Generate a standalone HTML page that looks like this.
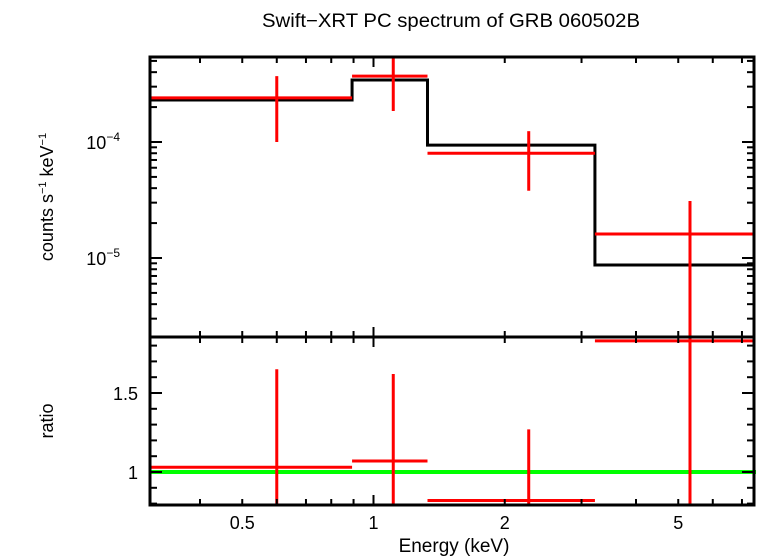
<!DOCTYPE html>
<html><head><meta charset="utf-8"><style>
body{margin:0;background:#fff;}
svg{display:block;font-family:"Liberation Sans",sans-serif;}
</style></head><body>
<svg id="c" width="758" height="556" viewBox="0 0 758 556">
<text x="451" y="27" font-size="19" text-anchor="middle" textLength="378" lengthAdjust="spacingAndGlyphs">Swift−XRT PC spectrum of GRB 060502B</text>
<text x="454" y="552" font-size="19" text-anchor="middle">Energy (keV)</text>
<text transform="translate(53,197) rotate(-90)" font-size="18" text-anchor="middle">counts s<tspan font-size="11" dy="-7">−1</tspan><tspan dy="7"> keV</tspan><tspan font-size="11" dy="-7">−1</tspan></text>
<text transform="translate(53,421) rotate(-90)" font-size="18" text-anchor="middle">ratio</text>
<g id="g"></g>
</svg>
<script>
const binLo=[0.307,0.893,1.33,3.22];
const binHi=[0.893,1.33,3.22,7.46];
const binCenter=[0.60,1.11,2.27,5.32];
const counts=[2.4e-4,3.7e-4,8.0e-5,1.61e-5];
const countsHi=[3.7e-4,5.6e-4,1.24e-4,3.1e-5];
const countsLo=[1.0e-4,1.85e-4,3.8e-5,1e-7];
const model=[2.3e-4,3.42e-4,9.4e-5,8.7e-6];
const ratio=[1.03,1.07,0.82,1.83];
const ratioHi=[1.65,1.62,1.27,2.5];
const ratioLo=[0.4,0.4,0.4,0.4];
const xTickLabels=["0.5","1","2","5"];
const xTickVals=[0.5,1,2,5];
const xMinor=[0.4,0.5,0.6,0.7,0.8,0.9,2,3,4,5,6,7];
const yTopLabels=[-4,-5];
const ratioTicks=[1,1.5];

const L=150,R=754,T=57,M=337,B=505;
const NS="http://www.w3.org/2000/svg";
const g=document.getElementById('g');
const X=e=>373.5+436*Math.log10(e);
const YT=v=>Math.max(T,Math.min(M,142-116*(Math.log10(v)+4)));
const YB=v=>Math.max(M,Math.min(B,472-158*(v-1)));
function ln(x1,y1,x2,y2,c,w,name){const l=document.createElementNS(NS,'line');
l.setAttribute('x1',x1);l.setAttribute('y1',y1);l.setAttribute('x2',x2);l.setAttribute('y2',y2);
l.setAttribute('stroke',c);l.setAttribute('stroke-width',w);


g.appendChild(l);return l;}
function tx(x,y,s,anchor,name){const t=document.createElementNS(NS,'text');
t.setAttribute('x',x);t.setAttribute('y',y);t.setAttribute('font-size','18');t.setAttribute('text-anchor',anchor);
t.textContent=s;


g.appendChild(t);return t;}
ln(L,YB(1),R+2,YB(1),'#00ff00',4,'unity-line');
let d='';
for(let i=0;i<binLo.length;i++){d+=(i?'L':'M')+X(binLo[i])+','+YT(model[i])+'L'+Math.min(R,X(binHi[i]))+','+YT(model[i]);}
const p=document.createElementNS(NS,'path');p.setAttribute('d',d);p.setAttribute('fill','none');p.setAttribute('stroke','#000');p.setAttribute('stroke-width','3');


g.appendChild(p);
for(let i=0;i<binLo.length;i++){
 const x1=Math.max(L,X(binLo[i])),x2=Math.min(R,X(binHi[i])),xc=X(binCenter[i]);
 ln(x1,YT(counts[i]),x2,YT(counts[i]),'#ff0000',3,'data-bin-'+i);
 ln(xc,YT(countsHi[i]),xc,YT(countsLo[i]),'#ff0000',3,'data-error-'+i);
 ln(x1,YB(ratio[i]),x2,YB(ratio[i]),'#ff0000',3,'ratio-bin-'+i);
 ln(xc,YB(ratioHi[i]),xc,YB(ratioLo[i]),'#ff0000',3,'ratio-error-'+i);
}
[[T,M,'top-panel-frame'],[M,B,'bottom-panel-frame']].forEach(([a,b,n])=>{const r=document.createElementNS(NS,'rect');
r.setAttribute('x',L);r.setAttribute('y',a);r.setAttribute('width',R-L);r.setAttribute('height',b-a);
r.setAttribute('fill','none');r.setAttribute('stroke','#000');r.setAttribute('stroke-width','3');


g.appendChild(r);});
xMinor.forEach(v=>{const x=X(v);[T,M].forEach(y=>ln(x,y,x,y+6,'#000',2,'x-tick'));[M,B].forEach(y=>ln(x,y,x,y-6,'#000',2,'x-tick'));});
[T,M,B].forEach((y,k)=>{const x=X(1);ln(x,y-(k>0?10:0),x,y+(k<2?10:0),'#000',2,'x-major-tick');});
xTickVals.forEach((v,i)=>tx(X(v),529,xTickLabels[i],'middle','x-tick-label'));
for(let e=-6;e<=-3;e++){for(let m=1;m<10;m++){const v=m*Math.pow(10,e);const y=142-116*(Math.log10(v)+4);
 if(y<T||y>M)continue;const w=m==1?12:7;ln(L,y,L+w,y,'#000',2,'y-tick');ln(R,y,R-w,y,'#000',2,'y-tick');}}
yTopLabels.forEach(e=>{const t=tx(L-30,YT(Math.pow(10,e))+7,'10','end','y-tick-label');
 const s=document.createElementNS(NS,'tspan');s.setAttribute('font-size','12');s.setAttribute('dy','-8');s.textContent='−'+(-e);t.appendChild(s);});
for(let v=0.8;v<=1.86;v+=0.1){const y=YB(v);const w=(Math.abs(v-1)<0.01||Math.abs(v-1.5)<0.01)?12:7;
 if(y<=M+1||y>=B-1)continue;ln(L,y,L+w,y,'#000',2,'ratio-tick');ln(R,y,R-w,y,'#000',2,'ratio-tick');}
ratioTicks.forEach(v=>tx(L-12,YB(v)+7,String(v),'end','ratio-tick-label'));
</script>
</body></html>
